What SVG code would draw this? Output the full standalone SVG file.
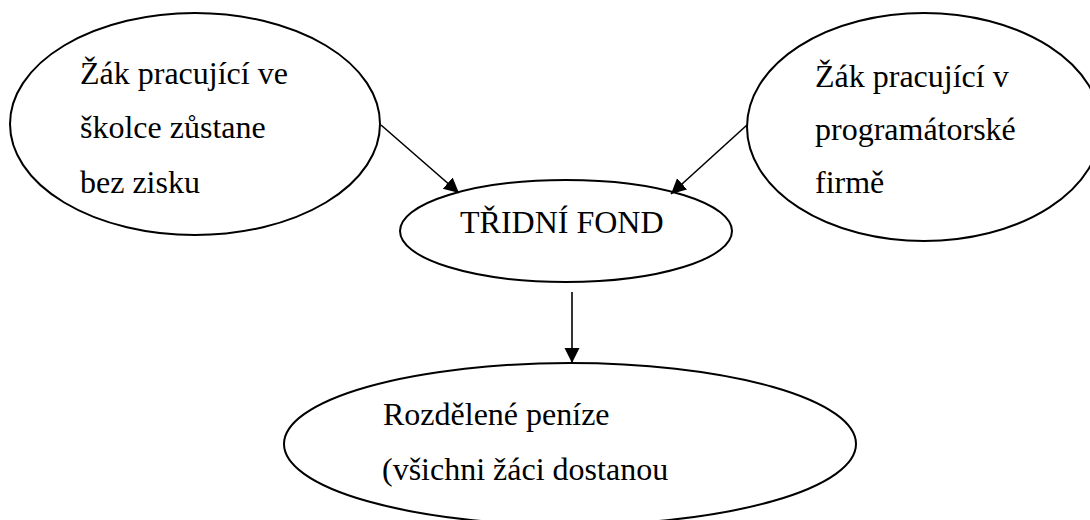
<svg xmlns="http://www.w3.org/2000/svg" width="1090" height="520" viewBox="0 0 1090 520">
<defs>
<style>
.node ellipse{fill:#fff;stroke:#000;stroke-width:2}
.lbl{font-family:"Liberation Serif","Times New Roman",serif;font-size:32px;fill:#000}
.conn line{stroke:#000;stroke-width:1.6;fill:none}
</style>
<marker id="ah" markerUnits="userSpaceOnUse" markerWidth="16" markerHeight="16" refX="15" refY="7.5" orient="auto">
<path d="M0,0 L15,7.5 L0,15 Z" fill="#000"/>
</marker>
</defs>
<rect width="1090" height="520" fill="#fff"/>
<g id="node-skolka" class="node">
<ellipse cx="195" cy="124" rx="185" ry="111"/>
<text class="lbl" x="80" y="84">Žák pracující ve</text>
<text class="lbl" x="80" y="138">školce zůstane</text>
<text class="lbl" x="80" y="193">bez zisku</text>
</g>
<g id="node-firma" class="node">
<ellipse cx="924" cy="127" rx="177" ry="114"/>
<text class="lbl" x="815" y="87">Žák pracující v</text>
<text class="lbl" x="815" y="140">programátorské</text>
<text class="lbl" x="815" y="193">firmě</text>
</g>
<g id="node-fond" class="node">
<ellipse cx="566" cy="231" rx="166" ry="51"/>
<text class="lbl" x="460" y="233">TŘIDNÍ FOND</text>
</g>
<g id="node-penize" class="node">
<ellipse cx="570" cy="444" rx="286" ry="81"/>
<text class="lbl" x="383" y="425">Rozdělené peníze</text>
<text class="lbl" x="382" y="480">(všichni žáci dostanou</text>
</g>
<g id="connectors" class="conn">
<line x1="381" y1="125" x2="459" y2="193" marker-end="url(#ah)"/>
<line x1="747" y1="125" x2="671" y2="194" marker-end="url(#ah)"/>
<line x1="572" y1="292" x2="572" y2="363" marker-end="url(#ah)"/>
</g>
</svg>
